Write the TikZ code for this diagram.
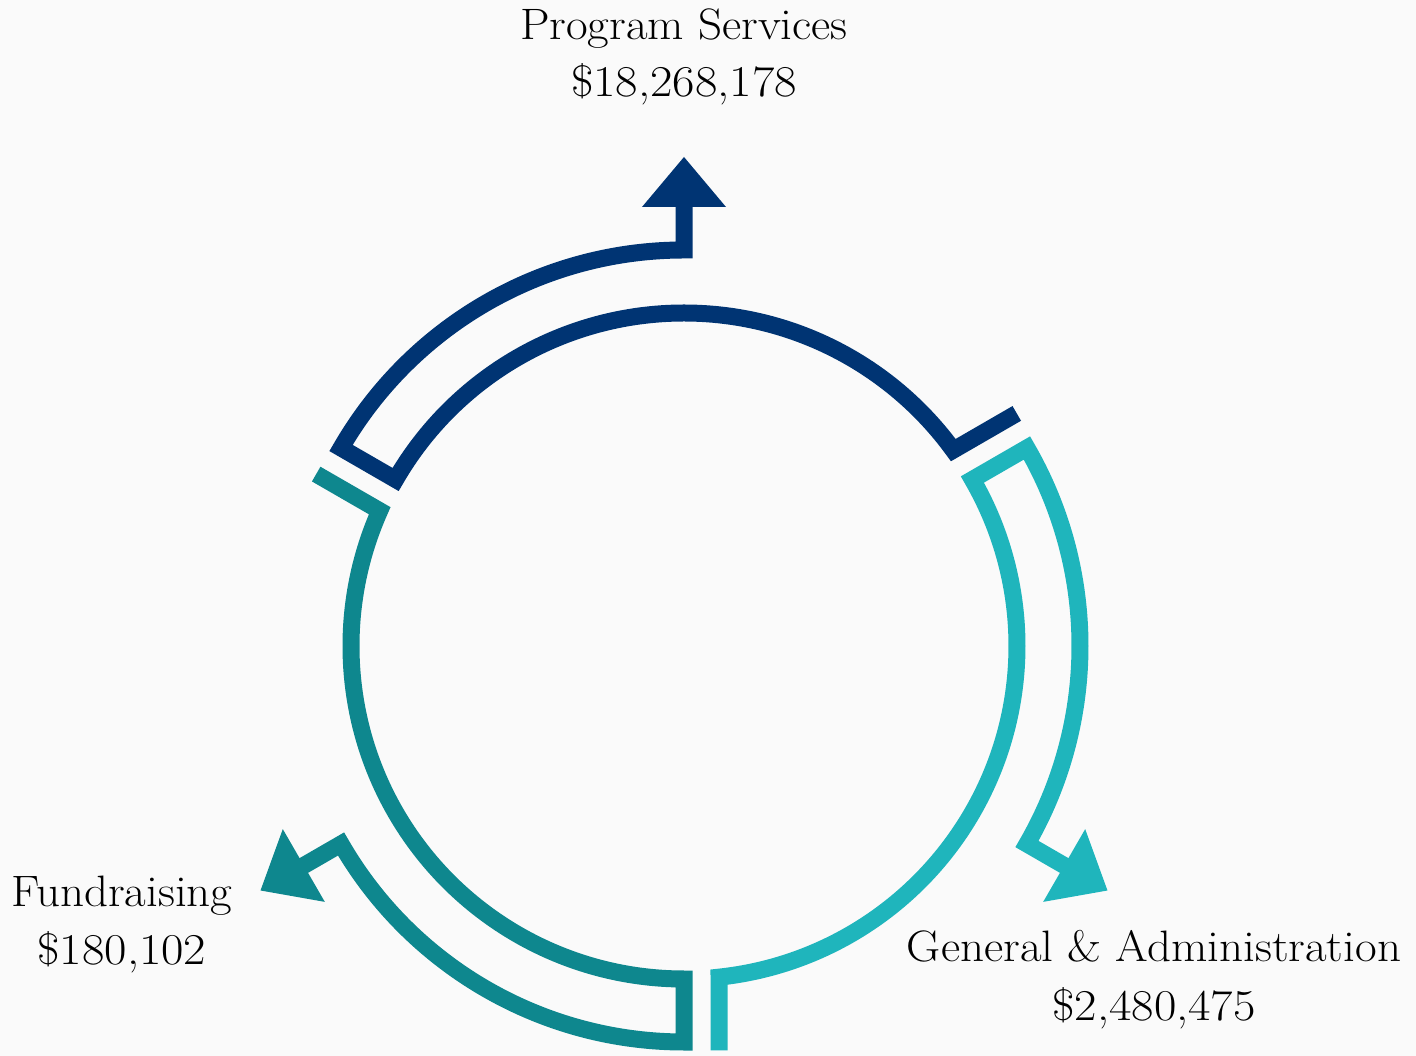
\documentclass[tikz,border=0pt]{standalone}
\definecolor{navyc}{HTML}{003473}
\definecolor{lteal}{HTML}{1FB5BC}
\definecolor{dteal}{HTML}{0E878E}
\definecolor{bgc}{HTML}{FAFAFA}
\tikzset{
  seg/.style={line width=17pt, line join=miter, line cap=butt},
  lbl/.style={font=\fontsize{44}{50}\selectfont, inner sep=0pt, anchor=base, text=black, xscale=1.07},
  val/.style={lbl, xscale=1.035},
}
\newcommand{\segshape}[1]{%
  \draw[seg, #1] (90:441pt) -- (90:396pt) arc[start angle=90, end angle=150, radius=396pt]
     -- (150:333pt) arc[start angle=150, end angle=36.034, radius=333pt]
     -- (34.95:406pt);
  \fill[#1] (-42pt,439pt) -- (42pt,439pt) -- (0pt,489pt) -- cycle;
}
\begin{document}
\begin{tikzpicture}[x=1pt,y=1pt]
  \fill[bgc] (-684,-410) rectangle (732,646);
  \useasboundingbox (-684,-410) rectangle (732,646);
  \coordinate (ctr) at (0,0);
  \begin{scope}\segshape{navyc}\end{scope}
  \begin{scope}[rotate=120]\segshape{dteal}\end{scope}
  \begin{scope}[rotate=240]\segshape{lteal}\end{scope}
  \node[lbl] (ps) at (0,606) {Program Services};
  \node[val] (psv) at (0,549) {\$18,268,178};
  \node[lbl] (fr) at (-562,-261) {Fundraising};
  \node[val] (frv) at (-562,-319) {\$180,102};
  \node[lbl] (ga) at (470,-316) {General \& Administration};
  \node[val] (gav) at (470,-374) {\$2,480,475};
\end{tikzpicture}
\end{document}
